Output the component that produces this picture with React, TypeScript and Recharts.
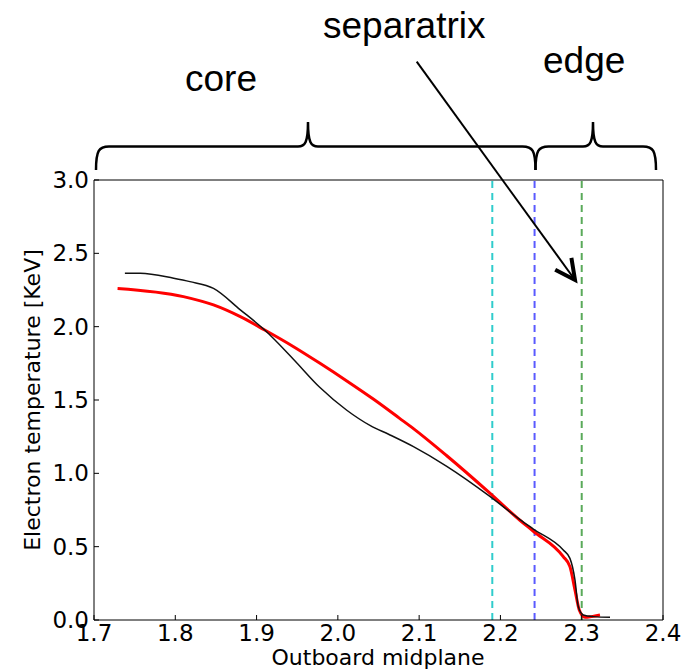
import { LineChart, Line, XAxis, YAxis, ReferenceLine } from 'recharts'

const W = 686
const H = 669
// plot box spans x 94..663, y 180..620 once the 1px axis bands are added
const MARGIN = { top: 179, right: 22, bottom: 48, left: 93 }

const X_TICKS = [1.7, 1.8, 1.9, 2.0, 2.1, 2.2, 2.3, 2.4]
const Y_TICKS = [0, 0.5, 1.0, 1.5, 2.0, 2.5, 3.0]

// black profile
const MEASURED_R = [1.738, 1.757, 1.798, 1.818, 1.847, 1.88, 1.91, 1.945, 1.978, 2.011, 2.04, 2.063, 2.093, 2.134, 2.187, 2.224, 2.2405, 2.2773, 2.2855, 2.2917, 2.2958, 2.302, 2.3143, 2.3348]
const MEASURED_TE = [2.364, 2.364, 2.33, 2.307, 2.261, 2.115, 1.977, 1.78, 1.585, 1.43, 1.325, 1.265, 1.182, 1.048, 0.843, 0.685, 0.62, 0.477, 0.42, 0.273, 0.091, 0.034, 0.023, 0.018]

// red profile
const FITTED_R = [1.729, 1.81, 1.847, 1.88, 1.91, 1.945, 1.978, 2.011, 2.044, 2.076, 2.093, 2.134, 2.187, 2.224, 2.2405, 2.2773, 2.2855, 2.2917, 2.297, 2.304, 2.312, 2.3225]
const FITTED_TE = [2.261, 2.205, 2.148, 2.068, 1.977, 1.865, 1.75, 1.63, 1.505, 1.375, 1.305, 1.12, 0.865, 0.68, 0.605, 0.432, 0.364, 0.205, 0.068, 0.018, 0.023, 0.034]

// vertical dashed markers
const MARKER_R = [2.19, 2.242, 2.3]
const MARKER_COLORS = ['#2fcccc', '#5a5aff', '#5aaa5a']

const measured = MEASURED_R.map((r, i) => ({ r, te: MEASURED_TE[i] }))
const fitted = FITTED_R.map((r, i) => ({ r, te: FITTED_TE[i] }))

const TICK_LEN = 5
const tickFont = { fontFamily: 'DejaVu Sans', fontSize: 23, fill: '#000' }

const BottomTick = ({ x, y, payload }: any) => (
    <g>
        <line x1={x} y1={y} x2={x} y2={y - TICK_LEN} stroke="#000" />
        <text x={x} y={y + 21} textAnchor="middle" {...tickFont}>{payload.value.toFixed(1)}</text>
    </g>
)

const TopTick = ({ x, y }: any) => <line x1={x} y1={y} x2={x} y2={y + TICK_LEN} stroke="#000" />

const LeftTick = ({ x, y, payload }: any) => (
    <g>
        <line x1={x} y1={y} x2={x + TICK_LEN} y2={y} stroke="#000" />
        <text x={x - 5} y={y + 8} textAnchor="end" {...tickFont}>{payload.value.toFixed(1)}</text>
    </g>
)

const RightTick = ({ x, y }: any) => <line x1={x} y1={y} x2={x - TICK_LEN} y2={y} stroke="#000" />

// curly brace opening downward, tip pointing up at xm
const bracePath = (x0: number, x1: number, xm: number) => {
    const yb = 170
    const yh = 146.5
    const yt = 122
    return `M ${x0} ${yb} C ${x0} ${yh + 4}, ${x0 + 3} ${yh}, ${x0 + 13} ${yh} L ${xm - 10} ${yh} C ${xm - 3} ${yh}, ${xm} ${yh - 4}, ${xm} ${yt} C ${xm} ${yh - 4}, ${xm + 3} ${yh}, ${xm + 10} ${yh} L ${x1 - 13} ${yh} C ${x1 - 3} ${yh}, ${x1} ${yh + 4}, ${x1} ${yb}`
}

const Annotations = () => (
    <svg width={W} height={H} style={{ position: 'absolute', left: 0, top: 0, pointerEvents: 'none' }}>
        <g fill="none" stroke="#000" strokeWidth={2.5}>
            <path d={bracePath(96, 535.5, 308)} />
            <path d={bracePath(535.5, 656, 593)} />
        </g>
        <g fontFamily="Liberation Sans" fontSize={37} fill="#000">
            <text x={323} y={38}>separatrix</text>
            <text x={185} y={91}>core</text>
            <text x={543} y={73}>edge</text>
        </g>
        <line x1={416.7} y1={61.7} x2={575} y2={280} stroke="#000" strokeWidth={2} />
        <polyline points="555.2,269.7 575,280 571.4,257.9" fill="none" stroke="#000" strokeWidth={4} />
        <g fontFamily="DejaVu Sans" fontSize={22} fill="#000">
            <text x={378} y={665} textAnchor="middle">Outboard midplane</text>
            <text transform="translate(40,400) rotate(-90)" textAnchor="middle">Electron temperature [KeV]</text>
        </g>
    </svg>
)

export default function App() {
    return (
        <div style={{ position: 'absolute', left: 0, top: 0, width: W, height: H, background: '#fff' }}>
            <LineChart width={W} height={H} margin={MARGIN}>
                <XAxis
                    dataKey="r"
                    type="number"
                    domain={[1.7, 2.4]}
                    ticks={X_TICKS}
                    height={1}
                    tickSize={0}
                    tickMargin={0}
                    tickLine={false}
                    tick={BottomTick}
                    stroke="#000"
                    interval={0}
                />
                <XAxis
                    xAxisId="top"
                    orientation="top"
                    type="number"
                    domain={[1.7, 2.4]}
                    ticks={X_TICKS}
                    height={1}
                    tickSize={0}
                    tickMargin={0}
                    tickLine={false}
                    tick={TopTick}
                    stroke="#000"
                    interval={0}
                />
                <YAxis
                    type="number"
                    domain={[0, 3]}
                    ticks={Y_TICKS}
                    width={1}
                    tickSize={0}
                    tickMargin={0}
                    tickLine={false}
                    tick={LeftTick}
                    stroke="#000"
                    interval={0}
                />
                <YAxis
                    yAxisId="right"
                    orientation="right"
                    type="number"
                    domain={[0, 3]}
                    ticks={Y_TICKS}
                    width={1}
                    tickSize={0}
                    tickMargin={0}
                    tickLine={false}
                    tick={RightTick}
                    stroke="#000"
                    interval={0}
                />
                {MARKER_R.map((r, i) => (
                    <ReferenceLine key={r} x={r} stroke={MARKER_COLORS[i]} strokeWidth={2} strokeDasharray="7 5" />
                ))}
                <Line
                    data={fitted}
                    dataKey="te"
                    type="monotoneX"
                    stroke="#ff0000"
                    strokeWidth={3}
                    dot={false}
                    isAnimationActive={false}
                />
                <Line
                    data={measured}
                    dataKey="te"
                    type="monotoneX"
                    stroke="#111"
                    strokeWidth={1.5}
                    dot={false}
                    isAnimationActive={false}
                />
            </LineChart>
            <Annotations />
        </div>
    )
}
